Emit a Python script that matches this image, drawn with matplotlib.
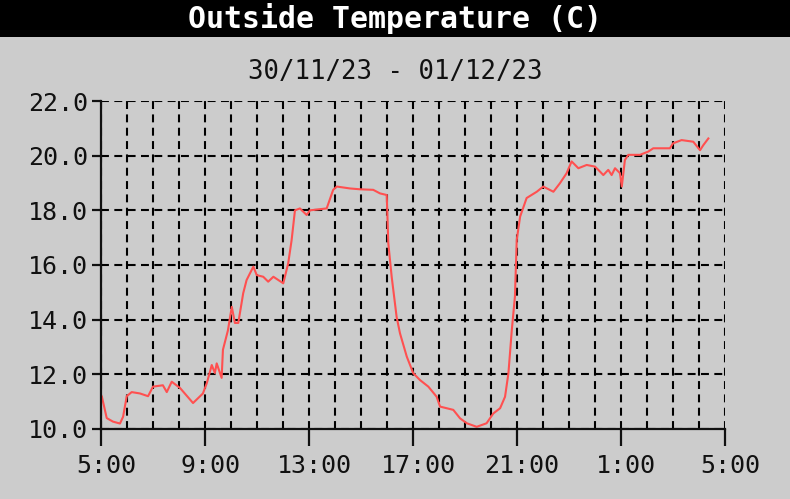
import matplotlib
matplotlib.use("Agg")
import matplotlib.pyplot as plt
import matplotlib.transforms as mtransforms
from matplotlib.patches import Rectangle
import numpy as np

# hours after 5:00 on 30/11/23, and outside temperature in C
hours = [0.0, 0.03, 0.22, 0.46, 0.73, 0.85, 0.99, 1.18, 1.5, 1.81, 2.0, 2.38, 2.53,
         2.72, 3.04, 3.54, 3.92, 4.07, 4.26, 4.38, 4.45, 4.64, 4.69, 4.88, 5.03,
         5.15, 5.28, 5.47, 5.6, 5.86, 5.99, 6.24, 6.43, 6.63, 7.01, 7.2, 7.33,
         7.46, 7.65, 7.91, 8.04, 8.68, 8.93, 9.07, 9.58, 9.96, 10.47, 10.73, 10.99,
         11.05, 11.18, 11.37, 11.5, 11.76, 12.01, 12.27, 12.59, 12.91, 13.04, 13.55,
         13.81, 14.07, 14.45, 14.83, 15.09, 15.35, 15.54, 15.67, 15.8, 15.92, 15.99,
         16.12, 16.37, 16.76, 17.01, 17.4, 17.65, 17.91, 18.1, 18.36, 18.68, 19.0,
         19.19, 19.32, 19.51, 19.64, 19.77, 19.96, 20.03, 20.15, 20.28, 20.73, 21.05,
         21.24, 21.88, 22.0, 22.33, 22.78, 23.04, 23.17, 23.36]
temps = [11.2, 11.2, 10.4, 10.27, 10.2, 10.45, 11.2, 11.35, 11.3, 11.2, 11.55, 11.6, 11.35,
         11.73, 11.5, 10.95, 11.3, 11.68, 12.34, 12.05, 12.4, 11.87, 12.9, 13.6, 14.47,
         13.88, 13.88, 14.97, 15.45, 15.94, 15.63, 15.57, 15.39, 15.57, 15.33, 16.06, 16.9,
         18.0, 18.07, 17.83, 18.0, 18.07, 18.75, 18.87, 18.8, 18.77, 18.75, 18.62, 18.56,
         16.8, 15.57, 14.1, 13.5, 12.65, 12.04, 11.79, 11.55, 11.18, 10.82, 10.7,
         10.39, 10.21, 10.08, 10.21, 10.57, 10.76, 11.18, 12.04, 13.62, 14.84, 16.92,
         17.77, 18.45, 18.68, 18.87, 18.68, 18.99, 19.36, 19.79, 19.54, 19.66, 19.6,
         19.42, 19.29, 19.48, 19.29, 19.54, 19.36, 18.87, 19.84, 20.03, 20.03, 20.15,
         20.27, 20.27, 20.45, 20.57, 20.51, 20.2, 20.39, 20.63]

x_ticks = [0, 4, 8, 12, 16, 20, 24]
x_labels = ["5:00", "9:00", "13:00", "17:00", "21:00", "1:00", "5:00"]
y_ticks = [10, 12, 14, 16, 18, 20, 22]

title = "Outside Temperature (C)"
subtitle = "30/11/23 - 01/12/23"

W, H = 790, 499
bg = "#cccccc"
ink = "#111111"
mono = "DejaVu Sans Mono"

fig = plt.figure(figsize=(W / 100, H / 100), dpi=100, facecolor=bg)

# black title bar
fig.patches.append(Rectangle((0, 1 - 37 / H), 1, 37 / H, transform=fig.transFigure,
                             facecolor="black", edgecolor="none"))
fig.text(0.5, 1 - 19 / H, title, color="white", ha="center", va="center",
         family=mono, fontsize=21.5, fontweight="bold")
fig.text(0.5, 1 - 72 / H, subtitle, color=ink, ha="center", va="center",
         family=mono, fontsize=18.5)

ax = fig.add_axes([101 / W, 70 / H, 624 / W, 328 / H])
ax.set_facecolor(bg)
ax.plot(hours, temps, color="#ff5050", linewidth=1.5, zorder=3)

ax.set_xlim(0, 24)
ax.set_ylim(10, 22)
ax.set_xticks(x_ticks)
ax.set_xticklabels(x_labels)
ax.set_xticks(np.arange(0, 25, 1), minor=True)
ax.set_yticks(y_ticks)
ax.set_yticklabels([f"{v:.1f}" for v in y_ticks])

dash = (0, (3.8, 2.6))
ax.grid(which="both", axis="x", color="black", linewidth=1.5, linestyle=dash)
ax.grid(which="major", axis="y", color="black", linewidth=1.5, linestyle=dash)
ax.set_axisbelow(True)

for side in ["top", "right"]:
    ax.spines[side].set_visible(False)
for side in ["left", "bottom"]:
    ax.spines[side].set_linewidth(1.6)
    ax.spines[side].set_color(ink)
    ax.spines[side].set_zorder(4)

ax.tick_params(axis="x", which="major", direction="out", length=12, width=1.6,
               pad=6, labelsize=18, labelcolor=ink, color=ink)
ax.tick_params(axis="x", which="minor", length=0)
ax.tick_params(axis="y", direction="out", length=6.5, width=1.6, pad=3,
               labelsize=18, labelcolor=ink, color=ink)
for lab in ax.get_xticklabels() + ax.get_yticklabels():
    lab.set_family(mono)

offset = mtransforms.ScaledTranslation(5 / 100, 0, fig.dpi_scale_trans)
for lab in ax.get_xticklabels():
    lab.set_transform(lab.get_transform() + offset)

fig.savefig("out.png", dpi=100, facecolor=bg)
